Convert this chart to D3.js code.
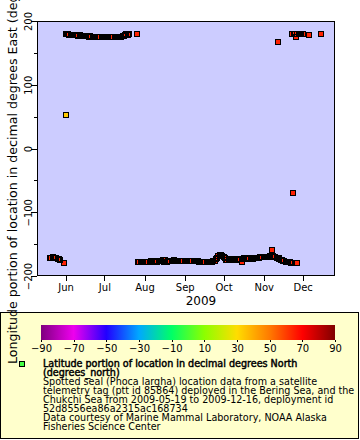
<!DOCTYPE html>
<html><head><meta charset="utf-8">
<script src="https://cdn.jsdelivr.net/npm/d3@7/dist/d3.min.js"></script>
<style>
html,body{margin:0;padding:0;background:#fff;}
svg{display:block;font-family:"DejaVu Sans",sans-serif;}
</style></head><body>
<svg id="chart" width="360" height="440"></svg>
<script>
// ---------- axis / legend values ----------
const xTickLabels = ["Jun","Jul","Aug","Sep","Oct","Nov","Dec"];
const xTickDates  = ["2009-06-01","2009-07-01","2009-08-01","2009-09-01","2009-10-01","2009-11-01","2009-12-01"];
const yTicks = [-200,-100,0,100,200];
const yMinorTicks = [-150,-50,50,150];
const colorbarTicks = [-90,-70,-50,-30,-10,10,30,50,70,90];
const paletteStops  = [-90,-70,-50,-30,-10,10,30,50,70,90];
const paletteColors = ["#7f007f","#ee00ee","#2200ff","#00a8ff","#00ff66","#8cff00","#ffdd00","#ff7a00","#ff0000","#800000"];
const legendLines = [
  "Spotted seal (Phoca largha) location data from a satellite",
  "telemetry tag (ptt id 85864) deployed in the Bering Sea, and the",
  "Chukchi Sea from 2009-05-19 to 2009-12-16, deployment id",
  "52d8556ea86a2315ac168734",
  "Data courtesy of Marine Mammal Laboratory, NOAA Alaska",
  "Fisheries Science Center"
];
const legendTitle = ["Latitude portion of location in decimal degrees North","(degrees_north)"];

// ---------- data: [time UTC, longitude °E, latitude °N] ----------
const springFixes = [
  ["2009-05-20",-171.0,62.2],["2009-05-21",-171.5,62.3],["2009-05-22",-170.6,62.5],
  ["2009-05-23",-171.4,62.6],["2009-05-24",-171.0,62.8],["2009-05-25",-172.0,63.0],
  ["2009-05-26",-172.6,63.1],["2009-05-27",-173.6,63.3],["2009-05-28",-175.2,63.5],
  ["2009-05-31",-179.4,64.6],["2009-06-01",52.5,34.0]
];
const summerFixes = [
  ["2009-06-01T12:00Z",179.5,63.6],["2009-06-02",179.2,63.6],["2009-06-03",179.6,63.7],
  ["2009-06-04",178.4,63.7],["2009-06-05",178.0,63.8],["2009-06-06",178.4,63.8],
  ["2009-06-07",177.6,63.9],["2009-06-08",178.0,63.9],["2009-06-09",177.4,64.0],
  ["2009-06-10",177.8,64.0],["2009-06-11",177.2,64.1],["2009-06-12",177.6,64.1],
  ["2009-06-13",177.0,64.0],["2009-06-14",176.4,64.0],["2009-06-15",176.0,63.9],
  ["2009-06-16",176.3,63.9],["2009-06-17",175.7,63.8],["2009-06-18",176.0,63.8],
  ["2009-06-19",175.4,63.7],["2009-06-20",175.8,63.7],["2009-06-21",175.2,63.6],
  ["2009-06-22",175.6,63.6],["2009-06-23",175.1,63.5],["2009-06-24",175.5,63.5],
  ["2009-06-25",175.0,63.4],["2009-06-26",175.4,63.4],["2009-06-27",175.1,63.3],
  ["2009-06-28",175.6,63.3],["2009-06-29",175.0,63.2],["2009-06-30",175.4,63.2],
  ["2009-07-01",174.9,63.1],["2009-07-02",175.3,63.1],["2009-07-03",175.6,63.2],
  ["2009-07-04",175.1,63.2],["2009-07-05",175.5,63.3],["2009-07-06",174.9,63.3],
  ["2009-07-07",175.4,63.4],["2009-07-08",175.0,63.4],["2009-07-09",175.5,63.5],
  ["2009-07-10",175.1,63.5],["2009-07-11",175.6,63.6],["2009-07-12",175.2,63.6],
  ["2009-07-13",174.9,63.7],["2009-07-14",175.5,63.7],["2009-07-15",176.3,63.8],
  ["2009-07-16",177.2,63.9],["2009-07-17",178.3,64.0],["2009-07-18",179.2,64.1],
  ["2009-07-19",178.5,64.2],["2009-07-20",179.4,64.3],["2009-07-26",179.6,64.5]
];
const autumnFixes = [
  ["2009-07-27",-178.8,64.5],["2009-07-28",-178.2,64.5],["2009-07-29",-178.6,64.6],
  ["2009-07-30",-178.0,64.6],["2009-07-31",-178.5,64.7],["2009-08-01",-178.8,64.7],
  ["2009-08-02",-178.2,64.8],["2009-08-03",-178.6,64.8],["2009-08-04",-178.0,64.9],
  ["2009-08-05",-177.6,64.9],["2009-08-06",-177.2,65.0],["2009-08-07",-177.8,65.0],
  ["2009-08-08",-177.4,65.1],["2009-08-09",-177.0,65.1],["2009-08-10",-177.6,65.2],
  ["2009-08-11",-177.3,65.2],["2009-08-12",-176.8,65.3],["2009-08-13",-177.2,65.3],
  ["2009-08-14",-176.5,65.2],["2009-08-15",-175.5,65.2],["2009-08-16",-178.0,65.1],
  ["2009-08-17",-175.6,65.1],["2009-08-18",-177.5,65.0],["2009-08-19",-176.2,65.0],
  ["2009-08-20",-175.8,65.1],["2009-08-21",-176.2,65.1],["2009-08-22",-175.7,65.2],
  ["2009-08-23",-176.0,65.2],["2009-08-24",-175.5,65.3],["2009-08-25",-176.1,65.3],
  ["2009-08-26",-175.8,65.4],["2009-08-27",-176.3,65.4],["2009-08-28",-175.9,65.3],
  ["2009-08-29",-176.2,65.3],["2009-08-30",-175.7,65.2],["2009-08-31",-176.0,65.2],
  ["2009-09-01",-176.5,64.7],["2009-09-02",-176.2,65.1],["2009-09-03",-176.8,65.1],
  ["2009-09-04",-176.4,65.0],["2009-09-05",-176.6,65.0],["2009-09-06",-176.2,64.9],
  ["2009-09-07",-176.7,64.9],["2009-09-08",-176.3,64.8],["2009-09-09",-176.8,64.8],
  ["2009-09-10",-176.5,64.6],["2009-09-11",-177.0,64.7],["2009-09-12",-177.6,64.7],
  ["2009-09-13",-178.0,64.6],["2009-09-14",-177.7,64.6],["2009-09-15",-178.2,64.5],
  ["2009-09-16",-177.8,64.5],["2009-09-17",-178.3,64.6],["2009-09-18",-177.9,64.6],
  ["2009-09-19",-178.2,64.7],["2009-09-20",-177.6,64.7],["2009-09-21",-178.0,64.8],
  ["2009-09-22",-177.5,64.9],["2009-09-23",-177.0,65.0],["2009-09-24",-175.8,65.2],
  ["2009-09-25",-173.5,65.4],["2009-09-26",-171.0,65.6],["2009-09-27",-169.0,65.8],
  ["2009-09-28",-167.8,65.9],["2009-09-29",-167.5,65.9],["2009-09-30",-168.5,65.8],
  ["2009-10-01",-170.5,65.6],["2009-10-02",-172.5,65.4],["2009-10-03",-174.5,65.2],
  ["2009-10-04",-175.5,65.1],["2009-10-05",-174.0,65.1],["2009-10-06",-175.0,65.0],
  ["2009-10-07",-174.2,65.0],["2009-10-08",-173.6,65.1],["2009-10-09",-174.5,65.1],
  ["2009-10-10",-173.8,65.0],["2009-10-11",-174.4,65.0],["2009-10-12",-173.5,64.9],
  ["2009-10-13",-174.0,64.9],["2009-10-14",-173.2,64.8],["2009-10-15",-178.5,64.6],
  ["2009-10-16",-173.0,64.8],["2009-10-17",-172.5,64.9],["2009-10-18",-173.4,64.9],
  ["2009-10-19",-172.8,65.0],["2009-10-20",-173.2,65.0],["2009-10-21",-172.4,65.1],
  ["2009-10-22",-173.0,65.1],["2009-10-23",-172.2,65.2],["2009-10-24",-172.8,65.2],
  ["2009-10-25",-172.0,65.3],["2009-10-26",-172.5,65.3],["2009-10-27",-171.6,65.4],
  ["2009-10-28",-171.0,65.4],["2009-10-29",-170.4,65.5],["2009-10-30",-170.8,65.5],
  ["2009-10-31",-170.0,65.6],["2009-11-01",-170.5,65.6],["2009-11-02",-169.8,65.7],
  ["2009-11-03",-170.3,65.7],["2009-11-04",-169.6,65.8],["2009-11-05",-170.2,65.8],
  ["2009-11-06",-169.4,65.7],["2009-11-07",-159.0,64.6],["2009-11-07T12:00Z",-169.2,65.6],
  ["2009-11-08",-169.0,65.5],["2009-11-09",-169.6,65.4],["2009-11-10",-170.2,65.3],
  ["2009-11-11",-171.0,65.1],["2009-11-12",167.0,64.6],["2009-11-12T12:00Z",-172.0,64.9],
  ["2009-11-13",-173.0,64.7],["2009-11-14",-174.2,64.5],["2009-11-15",-175.5,64.3],
  ["2009-11-16",-176.5,64.1],["2009-11-17",-177.2,63.9],["2009-11-18",-177.8,63.7],
  ["2009-11-19",-178.2,63.5],["2009-11-20",-178.5,63.3],["2009-11-21",-178.8,63.1],
  ["2009-11-22",-179.0,63.0]
];
const winterFixes = [
  ["2009-11-23",179.6,64.6],["2009-11-23T14:00Z",-69.8,64.6],["2009-11-24",179.4,63.0],
  ["2009-11-25",179.7,63.0],["2009-11-26",175.0,64.6],["2009-11-26T16:00Z",-179.8,64.6],
  ["2009-11-27",179.5,62.9],["2009-11-28",179.6,62.9],["2009-11-29",179.3,62.8],
  ["2009-11-30",179.7,62.8],["2009-12-01",179.4,62.7],["2009-12-06",177.6,64.6],
  ["2009-12-15",179.0,64.6]
];

// ---------- chart ----------
const svg = d3.select("#chart");
const P = {left:37, right:335, top:21, bottom:276};
const x = d3.scaleUtc().domain([new Date("2009-05-10"), new Date("2009-12-26")]).range([P.left, P.right]);
const y = d3.scaleLinear().domain([-200, 200]).range([P.bottom, P.top]);
const color = d3.scaleLinear().domain(paletteStops).range(paletteColors).clamp(true);

svg.append("rect").attr("x",P.left).attr("y",P.top)
  .attr("width",P.right-P.left).attr("height",P.bottom-P.top).attr("fill","#ccccff");

const fixes = [...springFixes, ...summerFixes, ...autumnFixes, ...winterFixes]
  .map(d => ({t:new Date(d[0]), lon:d[1], lat:d[2]}));
const px = d => Math.round(x(d.t)), py = d => Math.round(y(d.lon));

const mg = svg.append("g").attr("shape-rendering","crispEdges");
mg.selectAll("rect.f").data(fixes).join("rect").attr("class","f")
  .attr("x",d=>px(d)-2).attr("y",d=>py(d)-2).attr("width",4).attr("height",4)
  .attr("fill",d=>color(d.lat));
mg.selectAll("rect.e").data(fixes).join("rect").attr("class","e")
  .attr("x",d=>px(d)-2.5).attr("y",d=>py(d)-2.5).attr("width",5).attr("height",5)
  .attr("fill","none").attr("stroke","#000").attr("stroke-width",1);

// plot frame
svg.append("rect").attr("x",P.left+0.5).attr("y",P.top+0.5)
  .attr("width",P.right-P.left-1).attr("height",P.bottom-P.top-1)
  .attr("fill","none").attr("stroke","#000").attr("shape-rendering","crispEdges");

// x axis
const xAxis = d3.axisBottom(x).tickValues(xTickDates.map(s=>new Date(s)))
  .tickFormat((d,i)=>xTickLabels[i]).tickSize(5).tickPadding(3);
const gx = svg.append("g").attr("transform",`translate(0,${P.bottom})`).call(xAxis);
gx.select(".domain").remove();
gx.selectAll("line").attr("stroke","#000").attr("shape-rendering","crispEdges");
gx.selectAll("text").attr("fill","#000").style("font-size","10px").style("font-family","DejaVu Sans");

// y axis
const yAxis = d3.axisLeft(y).tickValues(yTicks).tickFormat(d3.format("d")).tickSize(6);
const gy = svg.append("g").attr("transform",`translate(${P.left},0)`).call(yAxis);
gy.select(".domain").remove();
gy.selectAll("line").attr("stroke","#000").attr("shape-rendering","crispEdges");
gy.selectAll("text").attr("fill","#000").style("font-size","10px").style("font-family","DejaVu Sans")
  .attr("x",null).attr("dy",null).attr("text-anchor","middle")
  .attr("transform","translate(-5,0) rotate(-90)");
const gym = svg.append("g").attr("transform",`translate(${P.left},0)`)
  .call(d3.axisLeft(y).tickValues(yMinorTicks).tickFormat("").tickSize(3));
gym.select(".domain").remove();
gym.selectAll("line").attr("stroke","#000").attr("shape-rendering","crispEdges");

// axis titles
svg.append("text").attr("x",201).attr("y",305).attr("text-anchor","middle")
  .style("font-size","12px").text("2009");

// legend box
svg.append("rect").attr("x",0.5).attr("y",312.5).attr("width",358).attr("height",126)
  .attr("fill","#ffffcc").attr("stroke","#000").attr("shape-rendering","crispEdges");

svg.append("text").attr("transform","translate(17,364) rotate(-90)")
  .attr("text-anchor","start").style("font-size","12.6px")
  .text("Longitude portion of location in decimal degrees East (degrees_east)");

// colorbar
const cb = {x0:41, x1:335, y0:325, h:15};
const cbx = d3.scaleLinear().domain([-90,90]).range([cb.x0, cb.x1]);
const grad = svg.append("defs").append("linearGradient").attr("id","pal")
  .attr("x1","0%").attr("x2","100%").attr("y1","0%").attr("y2","0%");
paletteStops.forEach((s,i)=>grad.append("stop")
  .attr("offset",((s+90)/180*100)+"%").attr("stop-color",paletteColors[i]));
svg.append("rect").attr("x",cb.x0).attr("y",cb.y0).attr("width",cb.x1-cb.x0).attr("height",cb.h)
  .attr("fill","url(#pal)");
const gc = svg.append("g").attr("transform",`translate(0,${cb.y0+cb.h})`)
  .call(d3.axisBottom(cbx).tickValues(colorbarTicks).tickSize(2).tickPadding(3));
gc.select(".domain").remove();
gc.selectAll("line").attr("stroke","#000").attr("shape-rendering","crispEdges");
gc.selectAll("text").attr("fill","#000").style("font-size","10px").style("font-family","DejaVu Sans");

// legend marker + text
svg.append("rect").attr("x",19.5).attr("y",361.5).attr("width",5).attr("height",5)
  .attr("fill","#44ff44").attr("stroke","#000").attr("shape-rendering","crispEdges");
const lt = svg.append("g").style("font-size","9.6px");
legendTitle.forEach((s,i)=>lt.append("text").attr("x",43).attr("y",367+9*i)
  .attr("stroke","#000").attr("stroke-width",0.45).text(s));
legendLines.forEach((s,i)=>lt.append("text").attr("x",43).attr("y",385+9*i).text(s));
</script></body></html>
